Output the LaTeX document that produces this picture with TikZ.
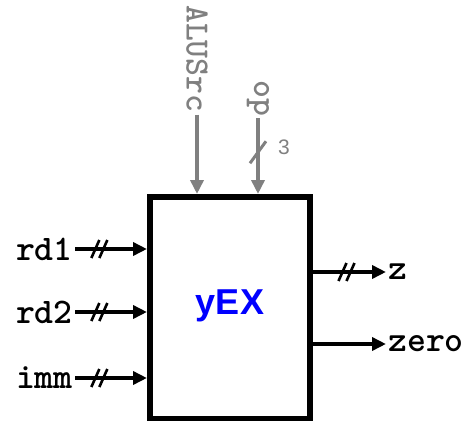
\documentclass[tikz,border=0pt]{standalone}
\usepackage{fontspec}
\setmainfont{Liberation Sans}
\newfontfamily\courb{lmmonolt10-bold.otf}
\usetikzlibrary{arrows.meta,decorations.markings}
\definecolor{sigray}{RGB}{128,128,128}
\definecolor{sigblue}{RGB}{0,0,255}
\begin{document}
\begin{tikzpicture}[x=1pt,y=-1pt,
  lbl/.style={font=\fontsize{36}{36}\selectfont\courb, inner sep=2pt},
  ctl/.style={font=\fontsize{34}{34}\selectfont\courb, inner sep=2pt, text=sigray, rotate=-90},
  wire/.style={line width=3.5pt, -{Triangle[length=14pt,width=13pt]}},
  cwire/.style={wire, draw=sigray},
  dslash/.style={postaction={decorate}, decoration={markings, mark=at position #1 with {\draw[-, line width=2.6pt] (-11pt,-9pt)--(-3pt,9pt) (-3pt,-9pt)--(5pt,9pt);}}},
  vslash/.style={postaction={decorate}, decoration={markings, mark=at position #1 with {\draw[-, line width=3pt, sigray] (11pt,-8pt)--(-11pt,8pt);}}},
  blockbox/.style={draw, line width=6pt, minimum width=160pt, minimum height=222pt, inner sep=0pt}
]
\useasboundingbox (0,0) rectangle (467,421);
\node[blockbox] (box) at (230,308) {};
\node[font=\fontsize{36}{36}\selectfont\bfseries, text=sigblue] (title) at (230,306) {yEX};

\node[ctl, anchor=west] (alu) at (197,3) {ALUSrc};
\node[ctl, anchor=west] (op) at (258,78) {op};
\node[font=\fontsize{21}{21}\selectfont, text=sigray] (w3) at (284,147) {3};

\draw[cwire] (alu.east) -- (alu.east |- box.north);
\draw[cwire, vslash=0.45] (op.east) -- (op.east |- box.north);

\node[lbl, anchor=east] (rd1) at (75,249) {rd1};
\node[lbl, anchor=east] (rd2) at (75,312) {rd2};
\node[lbl, anchor=east] (imm) at (75,378) {imm};

\draw[wire, dslash=0.38] (rd1.east) -- (rd1.east -| box.west);
\draw[wire, dslash=0.38] (rd2.east) -- (rd2.east -| box.west);
\draw[wire, dslash=0.38] (imm.east) -- (imm.east -| box.west);

\node[lbl, anchor=west] (z) at (386,272) {z};
\node[lbl, anchor=west] (zero) at (386,344) {zero};

\draw[wire, dslash=0.5] (z.west -| box.east) -- (z.west);
\draw[wire] (zero.west -| box.east) -- (zero.west);
\end{tikzpicture}
\end{document}
